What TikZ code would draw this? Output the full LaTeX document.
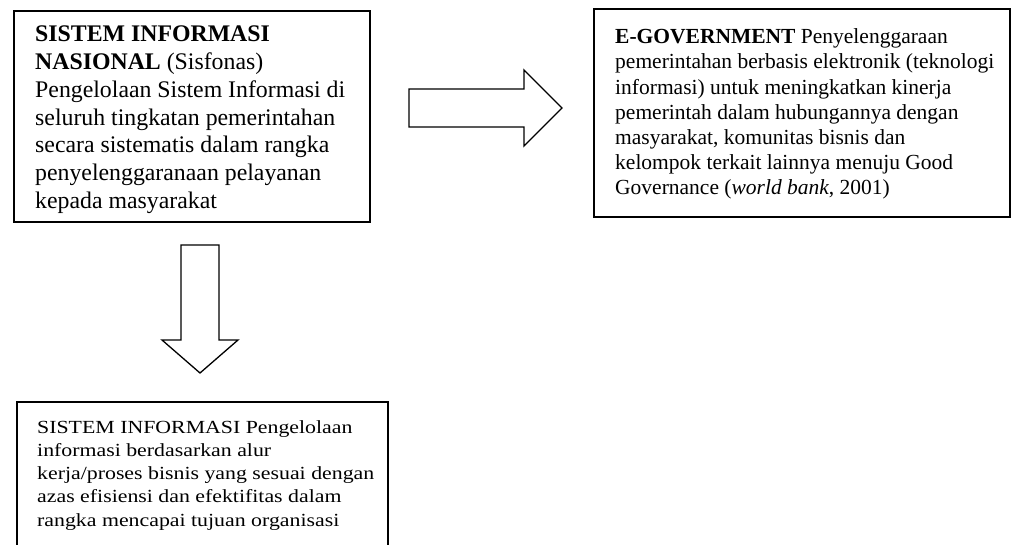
\documentclass[tikz,border=0pt]{standalone}
\usepackage{fontspec}
\setmainfont{Liberation Serif}
\newfontfamily\boxthreefont[FakeStretch=1.18]{Liberation Serif}
\begin{document}
\begin{tikzpicture}[x=1pt,y=-1pt,
  box/.style={draw=black,line width=2pt},
  blockarrow/.style={draw=black,line width=1.3pt,fill=white,line join=miter},
  txt/.style={anchor=north west,inner sep=0pt,align=left}]
\useasboundingbox (0,0) rectangle (1011,545);
\clip (0,0) rectangle (1011,545);
% boxes
\draw[box] (14,11) rectangle (370,222);
\draw[box] (594,9) rectangle (1010,217);
\draw[box] (17,560) -- (17,402) -- (388,402) -- (388,560);
% texts
\node[txt,font=\fontsize{23.8}{27.7}\selectfont] (t1) at (35,26)
  {\textbf{SISTEM INFORMASI}\\
   \textbf{NASIONAL} (Sisfonas)\\
   Pengelolaan Sistem Informasi di\\
   seluruh tingkatan pemerintahan\\
   secara sistematis dalam rangka\\
   penyelenggaranaan pelayanan\\
   kepada masyarakat};
\node[txt,font=\fontsize{21.5}{25.2}\selectfont] (t2) at (615,28.5)
  {\textbf{E-GOVERNMENT} Penyelenggaraan\\
   pemerintahan berbasis elektronik (teknologi\\
   informasi) untuk meningkatkan kinerja\\
   pemerintah dalam hubungannya dengan\\
   masyarakat, komunitas bisnis dan\\
   kelompok terkait lainnya menuju Good\\
   Governance (\textit{world bank}, 2001)};
\node[txt,font=\boxthreefont\fontsize{18.5}{23.3}\selectfont] (t3) at (37,420)
  {SISTEM INFORMASI Pengelolaan\\
   informasi berdasarkan alur\\
   kerja/proses bisnis yang sesuai dengan\\
   azas efisiensi dan efektifitas dalam\\
   rangka mencapai tujuan organisasi};
% block arrows
\draw[blockarrow] (409,89) -- (524,89) -- (524,70) -- (562,108) -- (524,146) -- (524,127) -- (409,127) -- cycle;
\draw[blockarrow] (181,245) -- (219,245) -- (219,340) -- (238,340) -- (200,373) -- (162,340) -- (181,340) -- cycle;
\end{tikzpicture}
\end{document}
